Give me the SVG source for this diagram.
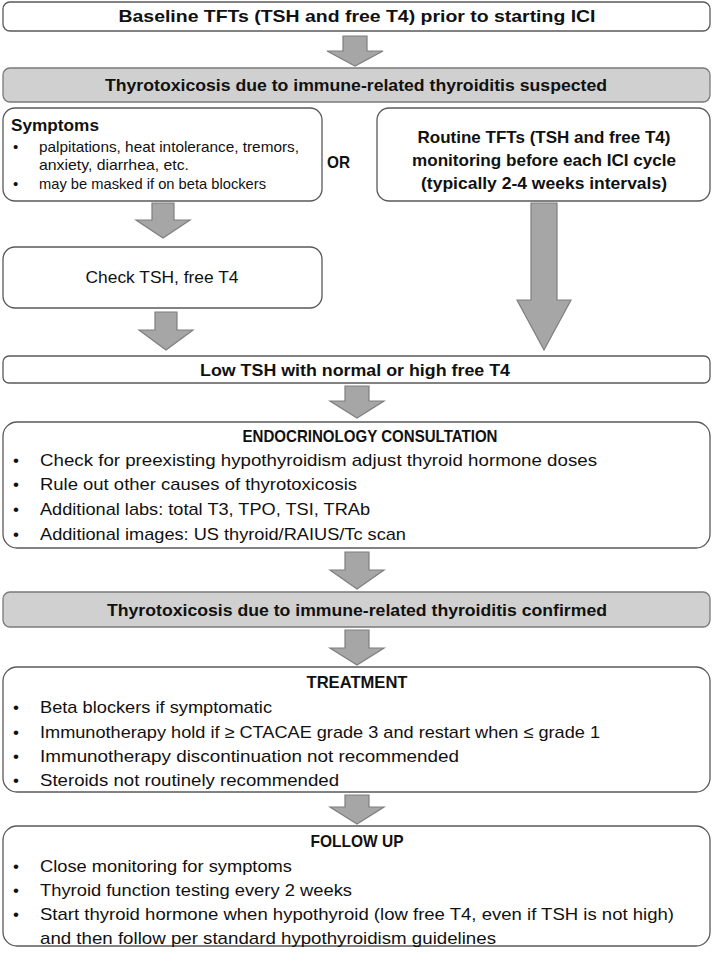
<svg xmlns="http://www.w3.org/2000/svg" width="714" height="953" viewBox="0 0 714 953">
<style>
.box{fill:#ffffff;stroke:#595959;stroke-width:1.3}
.gbox{fill:#d0d0d0;stroke:#7a7a7a;stroke-width:1.3}
.arr{fill:#a6a6a6;stroke:#7f7f7f;stroke-width:1.2}
text{font-family:"Liberation Sans",Arial,sans-serif;fill:#111}
.b{font-weight:bold;font-size:16.5px}
.t{font-size:17px}
.s{font-size:15px}
.c{text-anchor:middle}
</style>
<rect width="714" height="953" fill="#ffffff"/>
<g id="connectors">
<path class="arr" d="M343,36 H367 V51 H383 L355,66 L327,51 H343 Z"/>
<path class="arr" d="M152,203 H174 V220 H190 L163,238 L136,220 H152 Z"/>
<path class="arr" d="M155,312 H177 V330 H193 L166,350 L139,330 H155 Z"/>
<path class="arr" d="M531,203 H557 V300 H571 L544,350 L517,300 H531 Z"/>
<path class="arr" d="M345,386 H369 V401 H384 L357,418 L330,401 H345 Z"/>
<path class="arr" d="M345,552 H369 V570 H384 L357,589 L330,570 H345 Z"/>
<path class="arr" d="M345,630 H369 V648 H384 L357,665 L330,648 H345 Z"/>
<path class="arr" d="M345,795 H369 V807 H384 L357,824 L330,807 H345 Z"/>
</g>
<g id="baseline">
<rect class="box" x="3" y="2" width="707" height="29" rx="7"/>
<text class="b c" x="357" y="22" textLength="477" lengthAdjust="spacingAndGlyphs">Baseline TFTs (TSH and free T4) prior to starting ICI</text>
</g>
<g id="suspected">
<rect class="gbox" x="3" y="68" width="707" height="34" rx="7"/>
<text class="b c" x="356" y="91" textLength="502" lengthAdjust="spacingAndGlyphs">Thyrotoxicosis due to immune-related thyroiditis suspected</text>
</g>
<g id="symptoms">
<rect class="box" x="3" y="108" width="319" height="93" rx="12"/>
<text class="b" x="11" y="131" font-size="18" textLength="88" lengthAdjust="spacingAndGlyphs">Symptoms</text>
<text class="s" x="13" y="152">•</text>
<text class="s" x="39" y="152" textLength="260" lengthAdjust="spacingAndGlyphs">palpitations, heat intolerance, tremors,</text>
<text class="s" x="39" y="170" textLength="150" lengthAdjust="spacingAndGlyphs">anxiety, diarrhea, etc.</text>
<text class="s" x="13" y="189">•</text>
<text class="s" x="39" y="189" textLength="227" lengthAdjust="spacingAndGlyphs">may be masked if on beta blockers</text>
</g>
<g id="or">
<text class="b" x="327" y="168" textLength="23" lengthAdjust="spacingAndGlyphs">OR</text>
</g>
<g id="routine">
<rect class="box" x="377" y="108" width="333" height="93" rx="12"/>
<text class="b c" x="544" y="143" textLength="253" lengthAdjust="spacingAndGlyphs">Routine TFTs (TSH and free T4)</text>
<text class="b c" x="544" y="166" textLength="264" lengthAdjust="spacingAndGlyphs">monitoring before each ICI cycle</text>
<text class="b c" x="544" y="189" textLength="246" lengthAdjust="spacingAndGlyphs">(typically 2-4 weeks intervals)</text>
</g>
<g id="check">
<rect class="box" x="3" y="247" width="319" height="61" rx="12"/>
<text class="t c" x="162" y="283" textLength="153" lengthAdjust="spacingAndGlyphs">Check TSH, free T4</text>
</g>
<g id="lowtsh">
<rect class="box" x="3" y="356" width="707" height="27" rx="6"/>
<text class="b c" x="355" y="376" textLength="310" lengthAdjust="spacingAndGlyphs">Low TSH with normal or high free T4</text>
</g>
<g id="endo">
<rect class="box" x="3" y="422" width="707" height="126" rx="14"/>
<text class="b c" x="370" y="442" textLength="255" lengthAdjust="spacingAndGlyphs">ENDOCRINOLOGY CONSULTATION</text>
<text class="t" x="13" y="466">•</text>
<text class="t" x="40" y="466" textLength="557" lengthAdjust="spacingAndGlyphs">Check for preexisting hypothyroidism adjust thyroid hormone doses</text>
<text class="t" x="13" y="490">•</text>
<text class="t" x="40" y="490" textLength="317" lengthAdjust="spacingAndGlyphs">Rule out other causes of thyrotoxicosis</text>
<text class="t" x="13" y="515">•</text>
<text class="t" x="40" y="515" textLength="330" lengthAdjust="spacingAndGlyphs">Additional labs:  total T3, TPO, TSI, TRAb</text>
<text class="t" x="13" y="540">•</text>
<text class="t" x="40" y="540" textLength="366" lengthAdjust="spacingAndGlyphs">Additional images: US thyroid/RAIUS/Tc scan</text>
</g>
<g id="confirmed">
<rect class="gbox" x="3" y="592" width="707" height="35" rx="7"/>
<text class="b c" x="357" y="616" textLength="500" lengthAdjust="spacingAndGlyphs">Thyrotoxicosis due to immune-related thyroiditis confirmed</text>
</g>
<g id="treatment">
<rect class="box" x="3" y="667" width="707" height="125" rx="14"/>
<text class="b c" x="357" y="688" textLength="101" lengthAdjust="spacingAndGlyphs">TREATMENT</text>
<text class="t" x="13" y="713">•</text>
<text class="t" x="40" y="713" textLength="232" lengthAdjust="spacingAndGlyphs">Beta blockers if symptomatic</text>
<text class="t" x="13" y="738">•</text>
<text class="t" x="40" y="738" textLength="560" lengthAdjust="spacingAndGlyphs">Immunotherapy hold if ≥ CTACAE grade 3 and restart when ≤ grade 1</text>
<text class="t" x="13" y="762">•</text>
<text class="t" x="40" y="762" textLength="419" lengthAdjust="spacingAndGlyphs">Immunotherapy discontinuation not recommended</text>
<text class="t" x="13" y="786">•</text>
<text class="t" x="40" y="786" textLength="299" lengthAdjust="spacingAndGlyphs">Steroids not routinely recommended</text>
</g>
<g id="followup">
<rect class="box" x="3" y="826" width="707" height="120" rx="14"/>
<text class="b c" x="357" y="847" textLength="93" lengthAdjust="spacingAndGlyphs">FOLLOW UP</text>
<text class="t" x="13" y="872">•</text>
<text class="t" x="40" y="872" textLength="252" lengthAdjust="spacingAndGlyphs">Close monitoring for symptoms</text>
<text class="t" x="13" y="896">•</text>
<text class="t" x="40" y="896" textLength="312" lengthAdjust="spacingAndGlyphs">Thyroid function testing every 2 weeks</text>
<text class="t" x="13" y="920">•</text>
<text class="t" x="40" y="920" textLength="634" lengthAdjust="spacingAndGlyphs">Start thyroid hormone when hypothyroid (low free T4, even if TSH is not high)</text>
<text class="t" x="40" y="944" textLength="456" lengthAdjust="spacingAndGlyphs">and then follow per standard hypothyroidism guidelines</text>
</g>
</svg>
